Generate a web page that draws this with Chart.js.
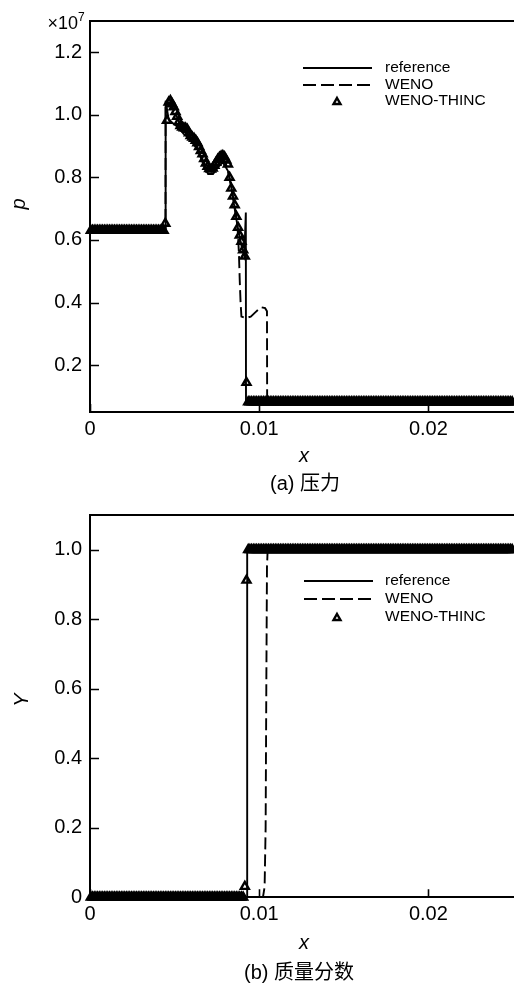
<!DOCTYPE html>
<html>
<head>
<meta charset="utf-8">
<script src="https://cdn.jsdelivr.net/npm/chart.js@4.4.1/dist/chart.umd.min.js"></script>
<style>
  html, body { margin: 0; padding: 0; background: #fff; overflow: hidden; width: 514px; height: 984px; }
  canvas { position: absolute; left: 0; }
  #chartP { top: 0; }
  #chartY { top: 495px; }
</style>
</head>
<body>
<canvas id="chartP" width="520" height="495"></canvas>
<canvas id="chartY" width="520" height="489"></canvas>
<script>
// ---- axis ticks and labels ----
const xTicks = [0, 0.01, 0.02];
const xTickLabels = ['0', '0.01', '0.02'];
const pTicks = [0.2, 0.4, 0.6, 0.8, 1.0, 1.2];
const pTickLabels = ['0.2', '0.4', '0.6', '0.8', '1.0', '1.2'];
const yfTicks = [0, 0.2, 0.4, 0.6, 0.8, 1.0];
const yfTickLabels = ['0', '0.2', '0.4', '0.6', '0.8', '1.0'];

// ---- (a) pressure, in units of 1e7 ----
const refPX = [0, 0.00446, 0.00447, 0.00465, 0.00495, 0.00524, 0.00553, 0.00582, 0.00611, 0.00640, 0.00669, 0.00698, 0.00727, 0.00756, 0.00785, 0.00815, 0.00832, 0.00849, 0.00873, 0.00896, 0.00912, 0.00921, 0.00922, 0.025];
const refP  = [0.63, 0.63, 1.045, 0.985, 0.971, 0.960, 0.939, 0.928, 0.907, 0.885, 0.843, 0.811, 0.811, 0.832, 0.848, 0.821, 0.780, 0.720, 0.640, 0.580, 0.550, 0.688, 0.082, 0.082];

const wenoPX = [0, 0.00446, 0.00447, 0.0048, 0.0051, 0.0054, 0.0057, 0.0060, 0.0063, 0.0066, 0.0069, 0.0072, 0.0075, 0.0078, 0.0080, 0.0082, 0.0085, 0.0087, 0.0088, 0.00885, 0.0089, 0.00895, 0.0092, 0.0095, 0.0098, 0.0101, 0.01035, 0.01046, 0.01047, 0.025];
const wenoP  = [0.63, 0.63, 1.04, 1.035, 1.0, 0.955, 0.945, 0.92, 0.90, 0.865, 0.825, 0.818, 0.845, 0.86, 0.85, 0.81, 0.725, 0.66, 0.56, 0.47, 0.40, 0.355, 0.35, 0.355, 0.37, 0.385, 0.382, 0.372, 0.082, 0.082];

// cell centres of the WENO-THINC solution
const cellX = [
  0.00005,0.00015,0.00025,0.00035,0.00045,0.00055,0.00065,0.00075,0.00085,0.00095,
  0.00105,0.00115,0.00125,0.00135,0.00145,0.00155,0.00165,0.00175,0.00185,0.00195,
  0.00205,0.00215,0.00225,0.00235,0.00245,0.00255,0.00265,0.00275,0.00285,0.00295,
  0.00305,0.00315,0.00325,0.00335,0.00345,0.00355,0.00365,0.00375,0.00385,0.00395,
  0.00405,0.00415,0.00425,0.00435,0.00445,0.00455,0.00465,0.00475,0.00485,0.00495,
  0.00505,0.00515,0.00525,0.00535,0.00545,0.00555,0.00565,0.00575,0.00585,0.00595,
  0.00605,0.00615,0.00625,0.00635,0.00645,0.00655,0.00665,0.00675,0.00685,0.00695,
  0.00705,0.00715,0.00725,0.00735,0.00745,0.00755,0.00765,0.00775,0.00785,0.00795,
  0.00805,0.00815,0.00825,0.00835,0.00845,0.00855,0.00865,0.00875,0.00885,0.00895,
  0.00905,0.00915,0.00925,0.00935,0.00945,0.00955,0.00965,0.00975,0.00985,0.00995,
  0.01005,0.01015,0.01025,0.01035,0.01045,0.01055,0.01065,0.01075,0.01085,0.01095,
  0.01105,0.01115,0.01125,0.01135,0.01145,0.01155,0.01165,0.01175,0.01185,0.01195,
  0.01205,0.01215,0.01225,0.01235,0.01245,0.01255,0.01265,0.01275,0.01285,0.01295,
  0.01305,0.01315,0.01325,0.01335,0.01345,0.01355,0.01365,0.01375,0.01385,0.01395,
  0.01405,0.01415,0.01425,0.01435,0.01445,0.01455,0.01465,0.01475,0.01485,0.01495,
  0.01505,0.01515,0.01525,0.01535,0.01545,0.01555,0.01565,0.01575,0.01585,0.01595,
  0.01605,0.01615,0.01625,0.01635,0.01645,0.01655,0.01665,0.01675,0.01685,0.01695,
  0.01705,0.01715,0.01725,0.01735,0.01745,0.01755,0.01765,0.01775,0.01785,0.01795,
  0.01805,0.01815,0.01825,0.01835,0.01845,0.01855,0.01865,0.01875,0.01885,0.01895,
  0.01905,0.01915,0.01925,0.01935,0.01945,0.01955,0.01965,0.01975,0.01985,0.01995,
  0.02005,0.02015,0.02025,0.02035,0.02045,0.02055,0.02065,0.02075,0.02085,0.02095,
  0.02105,0.02115,0.02125,0.02135,0.02145,0.02155,0.02165,0.02175,0.02185,0.02195,
  0.02205,0.02215,0.02225,0.02235,0.02245,0.02255,0.02265,0.02275,0.02285,0.02295,
  0.02305,0.02315,0.02325,0.02335,0.02345,0.02355,0.02365,0.02375,0.02385,0.02395,
  0.02405,0.02415,0.02425,0.02435,0.02445,0.02455,0.02465,0.02475,0.02485,0.02495
];

const thincP = [
  0.63,0.63,0.63,0.63,0.63,0.63,0.63,0.63,0.63,0.63,
  0.63,0.63,0.63,0.63,0.63,0.63,0.63,0.63,0.63,0.63,
  0.63,0.63,0.63,0.63,0.63,0.63,0.63,0.63,0.63,0.63,
  0.63,0.63,0.63,0.63,0.63,0.63,0.63,0.63,0.63,0.63,
  0.63,0.63,0.63,0.63,0.653,0.982,1.040,1.045,1.035,1.025,
  1.010,0.995,0.978,0.965,0.960,0.958,0.957,0.953,0.942,0.933,
  0.928,0.924,0.918,0.910,0.898,0.885,0.875,0.860,0.845,0.835,
  0.828,0.826,0.829,0.838,0.848,0.857,0.864,0.868,0.869,0.865,
  0.855,0.842,0.800,0.765,0.740,0.712,0.675,0.640,0.615,0.595,
  0.568,0.548,0.144,0.082,0.082,0.082,0.082,0.082,0.082,0.082,
  0.082,0.082,0.082,0.082,0.082,0.082,0.082,0.082,0.082,0.082,
  0.082,0.082,0.082,0.082,0.082,0.082,0.082,0.082,0.082,0.082,
  0.082,0.082,0.082,0.082,0.082,0.082,0.082,0.082,0.082,0.082,
  0.082,0.082,0.082,0.082,0.082,0.082,0.082,0.082,0.082,0.082,
  0.082,0.082,0.082,0.082,0.082,0.082,0.082,0.082,0.082,0.082,
  0.082,0.082,0.082,0.082,0.082,0.082,0.082,0.082,0.082,0.082,
  0.082,0.082,0.082,0.082,0.082,0.082,0.082,0.082,0.082,0.082,
  0.082,0.082,0.082,0.082,0.082,0.082,0.082,0.082,0.082,0.082,
  0.082,0.082,0.082,0.082,0.082,0.082,0.082,0.082,0.082,0.082,
  0.082,0.082,0.082,0.082,0.082,0.082,0.082,0.082,0.082,0.082,
  0.082,0.082,0.082,0.082,0.082,0.082,0.082,0.082,0.082,0.082,
  0.082,0.082,0.082,0.082,0.082,0.082,0.082,0.082,0.082,0.082,
  0.082,0.082,0.082,0.082,0.082,0.082,0.082,0.082,0.082,0.082,
  0.082,0.082,0.082,0.082,0.082,0.082,0.082,0.082,0.082,0.082,
  0.082,0.082,0.082,0.082,0.082,0.082,0.082,0.082,0.082,0.082
];

// ---- (b) mass fraction ----
const refYX = [0, 0.00928, 0.00929, 0.025];
const refY  = [0, 0, 1, 1];
const wenoYX = [0, 0.01022, 0.01032, 0.01038, 0.01042, 0.01046, 0.0105, 0.025];
const wenoY  = [0, 0, 0.03, 0.2, 0.6, 0.95, 1, 1];
const thincY = [
  0,0,0,0,0,0,0,0,0,0,
  0,0,0,0,0,0,0,0,0,0,
  0,0,0,0,0,0,0,0,0,0,
  0,0,0,0,0,0,0,0,0,0,
  0,0,0,0,0,0,0,0,0,0,
  0,0,0,0,0,0,0,0,0,0,
  0,0,0,0,0,0,0,0,0,0,
  0,0,0,0,0,0,0,0,0,0,
  0,0,0,0,0,0,0,0,0,0,
  0,0.031,0.912,1,1,1,1,1,1,1,
  1,1,1,1,1,1,1,1,1,1,
  1,1,1,1,1,1,1,1,1,1,
  1,1,1,1,1,1,1,1,1,1,
  1,1,1,1,1,1,1,1,1,1,
  1,1,1,1,1,1,1,1,1,1,
  1,1,1,1,1,1,1,1,1,1,
  1,1,1,1,1,1,1,1,1,1,
  1,1,1,1,1,1,1,1,1,1,
  1,1,1,1,1,1,1,1,1,1,
  1,1,1,1,1,1,1,1,1,1,
  1,1,1,1,1,1,1,1,1,1,
  1,1,1,1,1,1,1,1,1,1,
  1,1,1,1,1,1,1,1,1,1,
  1,1,1,1,1,1,1,1,1,1,
  1,1,1,1,1,1,1,1,1,1
];

const seriesNames = ['reference', 'WENO', 'WENO-THINC'];

const SANS = '"Liberation Sans", Arial, Helvetica, sans-serif';
const SANS_CJK = '"Liberation Sans", Arial, "Noto Sans CJK SC", sans-serif';

function pts(xs, ys) { return xs.map((x, i) => ({ x: x, y: ys[i] })); }

function triangle(ctx, cx, cy, r) {
  ctx.beginPath();
  ctx.moveTo(cx, cy - r);
  ctx.lineTo(cx + r * Math.sin(2 * Math.PI / 3), cy - r * Math.cos(2 * Math.PI / 3));
  ctx.lineTo(cx + r * Math.sin(4 * Math.PI / 3), cy - r * Math.cos(4 * Math.PI / 3));
  ctx.closePath();
  ctx.stroke();
}

// frame, inward ticks, legend and text labels
function decorations(cfg) {
  return {
    id: 'decor',
    afterDraw(chart) {
      const ctx = chart.ctx, a = chart.chartArea;
      const sx = chart.scales.x, sy = chart.scales.y;
      ctx.save();
      ctx.strokeStyle = '#000';
      ctx.fillStyle = '#000';
      ctx.lineWidth = 2;
      ctx.beginPath();
      ctx.moveTo(a.left - 1, Math.round(a.top));
      ctx.lineTo(chart.width, Math.round(a.top));
      ctx.stroke();

      ctx.lineWidth = 1.6;
      ctx.beginPath();
      cfg.yTicks.forEach(v => { const p = Math.round(sy.getPixelForValue(v)) + 0.5; ctx.moveTo(a.left, p); ctx.lineTo(a.left + 9, p); });
      cfg.xTicks.forEach(v => { const p = Math.round(sx.getPixelForValue(v)) + 0.5; ctx.moveTo(p, a.bottom); ctx.lineTo(p, a.bottom - 8); });
      ctx.stroke();

      // legend
      const L = cfg.legend;
      ctx.lineWidth = 2;
      ctx.beginPath(); ctx.moveTo(L.x0, L.rows[0]); ctx.lineTo(L.x1, L.rows[0]); ctx.stroke();
      ctx.setLineDash([13, 5]);
      ctx.beginPath(); ctx.moveTo(L.x0, L.rows[1]); ctx.lineTo(L.x1, L.rows[1]); ctx.stroke();
      ctx.setLineDash([]);
      ctx.lineWidth = 2.4;
      triangle(ctx, L.tri, L.rows[2] + 1, 4);
      ctx.font = '15.5px ' + SANS;
      ctx.textAlign = 'left';
      ctx.textBaseline = 'middle';
      seriesNames.forEach((s, i) => ctx.fillText(s, L.tx, L.rows[i]));

      // axis titles and caption
      ctx.font = 'italic 20px ' + SANS;
      ctx.textAlign = 'center';
      ctx.fillText('x', cfg.xTitle[0], cfg.xTitle[1]);
      ctx.save();
      ctx.translate(cfg.yTitle[1], cfg.yTitle[2]);
      ctx.rotate(-Math.PI / 2);
      ctx.fillText(cfg.yTitle[0], 0, 0);
      ctx.restore();
      ctx.font = '20px ' + SANS_CJK;
      ctx.fillText(cfg.caption[0], cfg.caption[1], cfg.caption[2]);

      if (cfg.exponent) {
        ctx.textBaseline = 'alphabetic';
        ctx.textAlign = 'right';
        ctx.font = '18px ' + SANS;
        ctx.fillText('\u00d710', 78, 29);
        ctx.textAlign = 'left';
        ctx.font = '12px ' + SANS;
        ctx.fillText('7', 78, 21);
      }
      ctx.restore();
    }
  };
}

function makeChart(id, o) {
  const tickFont = { family: SANS, size: 20 };
  return new Chart(document.getElementById(id), {
    type: 'line',
    data: {
      datasets: [
        { label: seriesNames[0], data: pts(o.refX, o.refV), borderColor: '#000', borderWidth: 1.9, pointRadius: 0, tension: 0, fill: false },
        { label: seriesNames[1], data: pts(o.wenoX, o.wenoV), borderColor: '#000', borderWidth: 1.9, borderDash: [12, 5], pointRadius: 0, tension: 0, fill: false },
        { label: seriesNames[2], data: pts(cellX, o.thinc), showLine: false, pointStyle: 'triangle', pointRadius: 4.6, pointHoverRadius: 4.6,
          pointBorderWidth: 2.4, pointBorderColor: '#000', pointBackgroundColor: 'rgba(0,0,0,0)', borderColor: '#000', backgroundColor: 'rgba(0,0,0,0)', clip: false }
      ]
    },
    options: {
      responsive: false,
      animation: false,
      devicePixelRatio: 1,
      events: [],
      layout: { padding: { top: o.top, right: 1.25, left: 0, bottom: 0 } },
      plugins: { legend: { display: false }, tooltip: { enabled: false }, title: { display: false } },
      scales: {
        x: {
          type: 'linear', min: 0, max: 0.025,
          afterBuildTicks: s => { s.ticks = xTicks.map(v => ({ value: v })); },
          afterFit: s => { s.height = o.xHeight; },
          grid: { display: false, drawTicks: false },
          border: { display: true, color: '#000', width: 2 },
          ticks: { padding: 5, font: tickFont, color: '#000', maxRotation: 0, autoSkip: false,
                   callback: (v, i) => xTickLabels[i] }
        },
        y: {
          type: 'linear', min: o.yMin, max: o.yMax,
          afterBuildTicks: s => { s.ticks = o.yTicks.map(v => ({ value: v })); },
          afterFit: s => { s.width = 90; },
          grid: { display: false, drawTicks: false },
          border: { display: true, color: '#000', width: 2 },
          ticks: { padding: 8, font: tickFont, color: '#000', autoSkip: false,
                   callback: (v, i) => o.yLabels[i] }
        }
      }
    },
    plugins: [decorations(o.decor)]
  });
}

makeChart('chartP', {
  refX: refPX, refV: refP, wenoX: wenoPX, wenoV: wenoP, thinc: thincP,
  top: 21, xHeight: 83, yMin: 0.05, yMax: 1.3, yTicks: pTicks, yLabels: pTickLabels,
  decor: {
    xTicks: xTicks, yTicks: pTicks,
    legend: { x0: 303, x1: 372, tx: 385, tri: 337, rows: [68, 85, 101] },
    xTitle: [304, 456], yTitle: ['p', 19, 204], caption: ['(a) 压力', 305, 484], exponent: true
  }
});

makeChart('chartY', {
  refX: refYX, refV: refY, wenoX: wenoYX, wenoV: wenoY, thinc: thincY,
  top: 11, xHeight: 86.7, yMin: 0, yMax: 1.1, yTicks: yfTicks, yLabels: yfTickLabels,
  decor: {
    xTicks: xTicks, yTicks: yfTicks,
    legend: { x0: 304, x1: 373, tx: 385, tri: 337, rows: [86, 104, 122] },
    xTitle: [304, 448], yTitle: ['Y', 22, 205], caption: ['(b) 质量分数', 299, 478], exponent: false
  }
});
</script>
</body>
</html>
